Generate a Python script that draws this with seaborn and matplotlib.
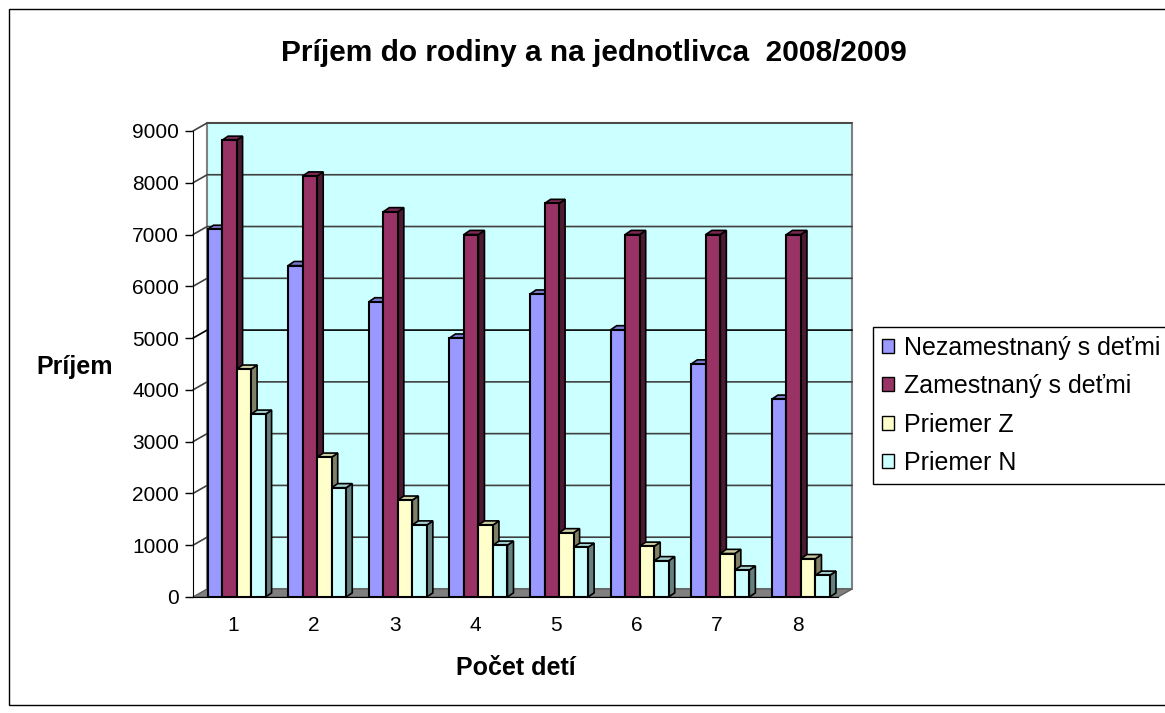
import numpy as np
import pandas as pd
import matplotlib
matplotlib.use('Agg')
import matplotlib.pyplot as plt
from matplotlib.patches import Polygon, Rectangle
import seaborn as sns

# data
categories = ['1', '2', '3', '4', '5', '6', '7', '8']
nezamestnany = [7100, 6400, 5700, 5000, 5850, 5160, 4500, 3820]
zamestnany = [8820, 8130, 7440, 7000, 7600, 7000, 7000, 7000]
priemer_z = [4400, 2700, 1870, 1390, 1240, 980, 840, 740]
priemer_n = [3530, 2110, 1390, 1000, 960, 700, 520, 420]

series_names = ['Nezamestnaný s deťmi', 'Zamestnaný s deťmi', 'Priemer Z', 'Priemer N']
front_colors = ['#9999FF', '#993366', '#FFFFCC', '#CCFFFF']
top_colors = ['#7A7ACC', '#7A2952', '#CCCCA3', '#A3CCCC']
side_colors = ['#4C4C80', '#4D1A33', '#808066', '#668080']

df = pd.DataFrame({
    'deti': categories * 4,
    'prijem': nezamestnany + zamestnany + priemer_z + priemer_n,
    'serie': np.repeat(series_names, len(categories)),
})

sns.set_style('white')
plt.rcParams['font.family'] = ['Liberation Sans', 'DejaVu Sans']
plt.rcParams['text.color'] = 'black'
plt.rcParams['axes.labelcolor'] = 'black'
plt.rcParams['xtick.color'] = 'black'
plt.rcParams['ytick.color'] = 'black'

W, H = 1165, 713
fig = plt.figure(figsize=(W / 100, H / 100), dpi=100)
ax = fig.add_axes([193 / W, 1 - 597 / H, 645 / W, 466 / H])

sns.barplot(data=df, x='deti', y='prijem', hue='serie', hue_order=series_names,
            palette=front_colors, width=0.72, edgecolor='black', linewidth=1.5,
            saturation=1, legend=False, ax=ax)

ymax = 9000
ax.set_xlim(-0.5, len(categories) - 0.5)
ax.set_ylim(0, ymax)
x0, x1 = ax.get_xlim()

# pseudo-3D wall / floor / grid
wdx, wdy = 0.175, 155
ax.add_patch(Polygon([(x0 + wdx, wdy), (x1 + wdx, wdy), (x1 + wdx, ymax + wdy), (x0 + wdx, ymax + wdy)],
                     closed=True, fc='#CCFFFF', ec='#808080', lw=1.5, zorder=0.5, clip_on=False))
ax.add_patch(Polygon([(x0, 0), (x1, 0), (x1 + wdx, wdy), (x0 + wdx, wdy)],
                     closed=True, fc='#808080', ec='#606060', lw=1, zorder=0.6, clip_on=False))
for t in np.arange(1000, ymax + 1, 1000):
    ax.plot([x0, x0 + wdx, x1 + wdx], [t, t + wdy, t + wdy], color='#404040' if t != 5000 else 'black',
            lw=1.2, zorder=0.7, clip_on=False)

# bar depth faces
bdx, bdy = 0.075, 80
for h, cont in enumerate(ax.containers):
    for bar in cont:
        bx, bw, bh = bar.get_x() + 0.04, bar.get_width(), bar.get_height()
        bar.set_x(bx)
        bar.set_zorder(2 + h * 0.2 + 0.1)
        top = Polygon([(bx, bh), (bx + bw, bh), (bx + bw + bdx, bh + bdy), (bx + bdx, bh + bdy)],
                      closed=True, fc=top_colors[h], ec='black', lw=1.2, zorder=2 + h * 0.2)
        side = Polygon([(bx + bw, 0), (bx + bw + bdx, bdy), (bx + bw + bdx, bh + bdy), (bx + bw, bh)],
                       closed=True, fc=side_colors[h], ec='black', lw=1.2, zorder=2 + h * 0.2)
        ax.add_patch(side)
        ax.add_patch(top)

ax.set_facecolor('white')
for s in ['top', 'right']:
    ax.spines[s].set_visible(False)
ax.spines['left'].set_color('black')
ax.spines['bottom'].set_color('black')
ax.spines['left'].set_zorder(5)
ax.spines['bottom'].set_zorder(5)

ax.set_yticks(np.arange(0, ymax + 1, 1000))
ax.set_xticks(range(len(categories)))
ax.set_xticklabels(categories)
ax.set_xticks(np.arange(-0.5, len(categories)), minor=True)
ax.tick_params(axis='x', which='major', length=0, labelsize=15, pad=14)
ax.tick_params(axis='x', which='minor', length=8, width=1, direction='out', color='black')
ax.tick_params(axis='y', length=6, width=1, direction='out', color='black', labelsize=15, pad=4, left=True)
ax.set_xlabel('Počet detí', fontsize=18, fontweight='bold', labelpad=15)
ax.set_ylabel('')
fig.text(75 / W, 1 - 367 / H, 'Príjem', fontsize=18, fontweight='bold', ha='center', va='center')

fig.text(594 / W, 1 - 53 / H, 'Príjem do rodiny a na jednotlivca  2008/2009',
         fontsize=21.5, fontweight='bold', ha='center', va='center')

handles = [Rectangle((0, 0), 1, 1, fc=c, ec='black', lw=1) for c in front_colors]
leg = fig.legend(handles, series_names, loc='upper left', bbox_to_anchor=(873 / W, 1 - 327 / H),
                 fontsize=18, frameon=True, fancybox=False, edgecolor='black', framealpha=1,
                 handlelength=0.5, handleheight=0.5, handletextpad=0.4, labelspacing=0.58,
                 borderpad=0.35, borderaxespad=0)
leg.get_frame().set_linewidth(1)

fig.patches.append(Rectangle((9 / W, 8 / H), 1.5, (705 - 9) / H, transform=fig.transFigure,
                             fill=False, ec='black', lw=1))

fig.savefig('out.png', dpi=100, facecolor='white')
